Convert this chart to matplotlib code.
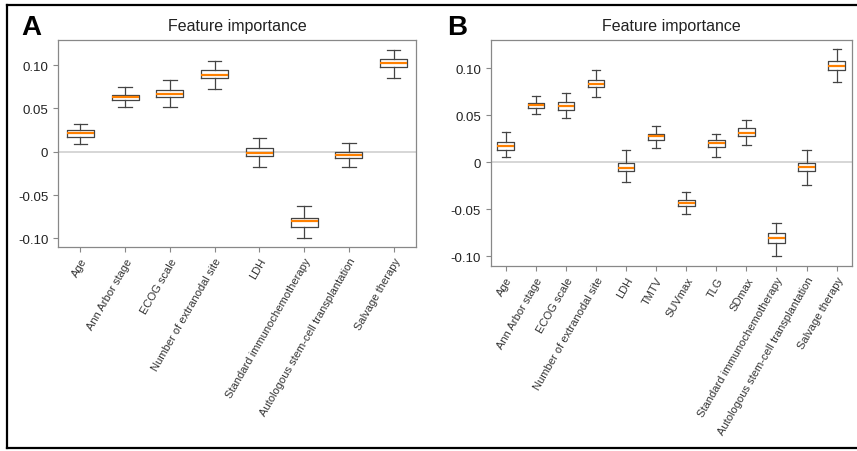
import matplotlib
matplotlib.use("Agg")
import matplotlib.pyplot as plt
from matplotlib.lines import Line2D

plt.rcParams['font.family'] = ['Liberation Sans', 'DejaVu Sans']

# ---- data ----
labels_a = ["Age", "Ann Arbor stage", "ECOG scale", "Number of extranodal site", "LDH",
            "Standard immunochemotherapy", "Autologous stem-cell transplantation", "Salvage therapy"]
whislo_a = [0.0085, 0.0515, 0.0515, 0.073, -0.0173, -0.100, -0.0173, 0.0846]
q1_a     = [0.0169, 0.0600, 0.0627, 0.0854, -0.0054, -0.0865, -0.0073, 0.0977]
med_a    = [0.0212, 0.0635, 0.0669, 0.0885, -0.0015, -0.0800, -0.0035, 0.1023]
q3_a     = [0.0250, 0.0658, 0.0715, 0.0938, 0.0042, -0.0762, 0.0000, 0.1065]
whishi_a = [0.0319, 0.0746, 0.0823, 0.1046, 0.0162, -0.0630, 0.0100, 0.1180]

labels_b = ["Age", "Ann Arbor stage", "ECOG scale", "Number of extranodal site", "LDH",
            "TMTV", "SUVmax", "TLG", "SDmax",
            "Standard immunochemotherapy", "Autologous stem-cell transplantation", "Salvage therapy"]
whislo_b = [0.0050, 0.0507, 0.0468, 0.0688, -0.0216, 0.0152, -0.0550, 0.0057, 0.0180, -0.0996, -0.0241, 0.0855]
q1_b     = [0.0128, 0.0574, 0.0557, 0.0798, -0.0099, 0.0234, -0.0472, 0.0160, 0.0277, -0.0858, -0.0099, 0.0979]
med_b    = [0.0174, 0.0603, 0.0599, 0.0833, -0.0060, 0.0273, -0.0433, 0.0199, 0.0312, -0.0812, -0.0050, 0.1021]
q3_b     = [0.0216, 0.0628, 0.0638, 0.0872, -0.0007, 0.0298, -0.0400, 0.0230, 0.0358, -0.0752, -0.0007, 0.1078]
whishi_b = [0.0323, 0.0706, 0.0734, 0.0979, 0.0131, 0.0383, -0.0323, 0.0294, 0.0443, -0.0649, 0.0131, 0.1199]

yticks = [0.10, 0.05, 0.0, -0.05, -0.10]
ytick_labels = ["0.10", "0.05", "0", "-0.05", "-0.10"]

fig = plt.figure(figsize=(8.57, 4.52), dpi=100)
fig.patch.set_facecolor("white")

ax_a = fig.add_axes([0.0677, 0.4513, 0.4177, 0.4580])
ax_b = fig.add_axes([0.5726, 0.4093, 0.4212, 0.5000])


def draw(ax, labels, lo, q1, med, q3, hi, width, ylim):
    stats = []
    for i, lab in enumerate(labels):
        stats.append(dict(label=lab, whislo=lo[i], q1=q1[i], med=med[i], q3=q3[i],
                          whishi=hi[i], fliers=[]))
    ax.axhline(0, color="#d0d0d0", lw=1.2, zorder=0)
    ax.bxp(stats, widths=width, showfliers=False,
           boxprops=dict(color="#444444", linewidth=0.9),
           whiskerprops=dict(color="#444444", linewidth=0.9),
           capprops=dict(color="#444444", linewidth=0.9),
           medianprops=dict(color="#ff8000", linewidth=1.6))
    ax.set_ylim(*ylim)
    ax.set_xlim(0.5, len(labels) + 0.5)
    ax.set_yticks(yticks)
    ax.set_yticklabels(ytick_labels, fontsize=9.5, color="#222222")
    ax.set_xticklabels(labels, rotation=60, ha="right", rotation_mode="anchor",
                       fontsize=8, color="#333333")
    for s in ax.spines.values():
        s.set_color("#888888")
        s.set_linewidth(0.9)
    ax.tick_params(axis="both", direction="out", length=3.5, color="#888888", width=0.8)
    ax.tick_params(axis="x", pad=3)
    ax.set_title("Feature importance", fontsize=11.5, color="#222222", pad=7)


draw(ax_a, labels_a, whislo_a, q1_a, med_a, q3_a, whishi_a, 0.6, (-0.110, 0.129))
draw(ax_b, labels_b, whislo_b, q1_b, med_b, q3_b, whishi_b, 0.55, (-0.1106, 0.1298))

fig.text(0.025, 0.938, "A", fontsize=20, fontweight="bold", ha="left", va="center")
fig.text(0.522, 0.938, "B", fontsize=20, fontweight="bold", ha="left", va="center")

# figure border (top, left, bottom)
lw = 1.6
fig.add_artist(Line2D([0.0082, 1.0], [0.9867, 0.9867], color="black", lw=lw, transform=fig.transFigure))
fig.add_artist(Line2D([0.0082, 0.0082], [0.0066, 0.9867], color="black", lw=lw, transform=fig.transFigure))
fig.add_artist(Line2D([0.0082, 1.0], [0.0066, 0.0066], color="black", lw=lw, transform=fig.transFigure))

fig.savefig("out.png", dpi=100)
